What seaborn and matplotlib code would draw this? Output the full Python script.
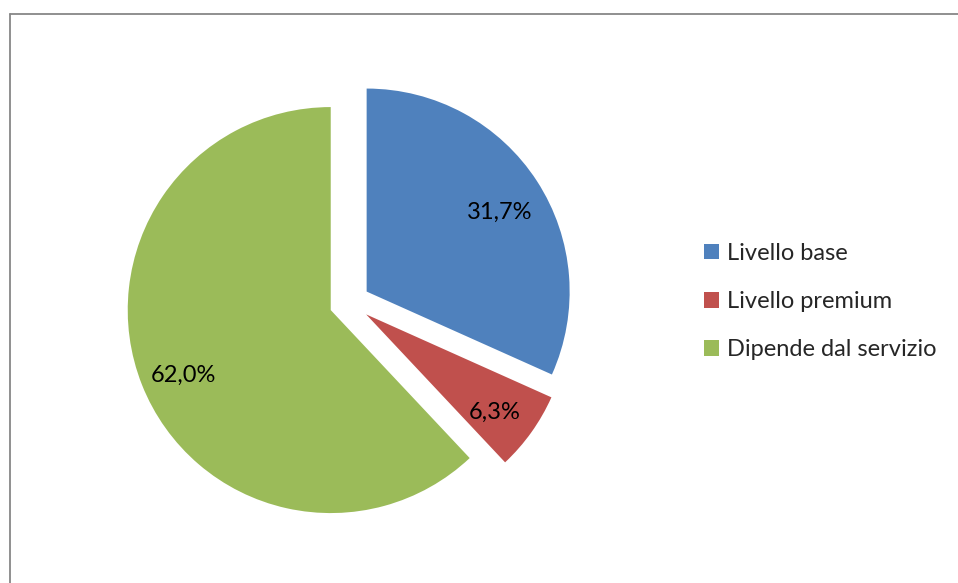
import matplotlib
matplotlib.use("Agg")
import matplotlib.pyplot as plt
import seaborn as sns
from matplotlib.lines import Line2D
from matplotlib.patches import Patch

categories = ["Livello base", "Livello premium", "Dipende dal servizio"]
values = [31.7, 6.3, 62.0]
colors = ["#4F81BD", "#C0504D", "#9BBB59"]

sns.set_theme(style="white")
plt.rcParams['font.family'] = ['Lato', 'DejaVu Sans']

W, H = 958, 583
fig = plt.figure(figsize=(W / 100, H / 100), dpi=100)
fig.patch.set_facecolor("white")

# pie geometry (pixels)
cx, cy, r = 349.6, 302.6, 203.0
L = 1.3
s = 2 * L * r
ax = fig.add_axes([(cx - s / 2) / W, (H - cy - s / 2) / H, s / W, s / H])

def fmt(p):
    return f"{p:.1f}%".replace(".", ",")

fs = 17
wedges, texts, autotexts = ax.pie(
    values, colors=colors, startangle=90, counterclock=False,
    explode=[0.1, 0.1, 0.1], autopct=fmt, pctdistance=0.78,
    wedgeprops=dict(linewidth=0), textprops=dict(fontsize=fs, color="black"))
for t in autotexts:
    x, y = t.get_position()
    t.set_position((x, y - 6.5 / r))
ax.set_xlim(-L, L)
ax.set_ylim(-L, L)
ax.set_aspect("auto")
ax.axis("off")

handles = [Patch(facecolor=c, edgecolor="none") for c in colors]
fig.legend(handles, categories, loc="center left",
           bbox_to_anchor=(704 / W, (H - 301.5) / H), frameon=False,
           fontsize=fs, handlelength=0.64, handleheight=0.64,
           handletextpad=0.34, labelspacing=1.15, borderpad=0, borderaxespad=0)

# chart border (top and left visible)
bc = "#878787"
fig.add_artist(Line2D([10 / W, 1.0], [1 - 14 / H, 1 - 14 / H], color=bc, lw=1.3,
                      transform=fig.transFigure))
fig.add_artist(Line2D([10 / W, 10 / W], [1 - 14 / H, 0], color=bc, lw=1.3,
                      transform=fig.transFigure))

fig.savefig("out.png", dpi=100)
